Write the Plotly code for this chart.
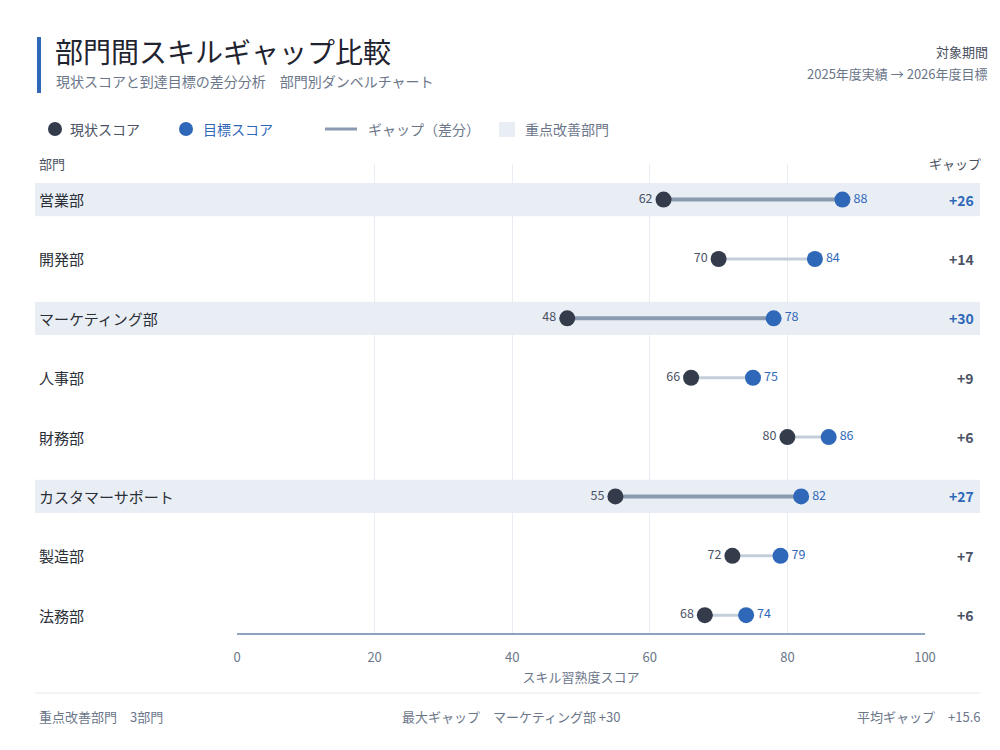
import plotly.graph_objects as go

# データ
departments = ["営業部", "開発部", "マーケティング部", "人事部", "財務部", "カスタマーサポート", "製造部", "法務部"]
current_scores = [62, 70, 48, 66, 80, 55, 72, 68]
target_scores = [88, 84, 78, 75, 86, 82, 79, 74]
focus_depts = ["営業部", "マーケティング部", "カスタマーサポート"]
x_ticks = [0, 20, 40, 60, 80, 100]

FONT = "Noto Sans CJK JP, Noto Sans, sans-serif"
DARK = "#343c4c"
BLUE = "#2f68b8"
GRAY = "#6b7689"
TEXT = "#3a3f4a"
BAND = "#e9eef5"

# 描画領域 (参照画像の px) — ページ余白 8px を差し引く
OFF = 8
L, R, T, B = 237, 925, 164, 633
W, H = 1000 - OFF, 750 - OFF


def px(x):
    return (x - L) / (R - L)


def py(y):
    return (B - y) / (B - T)


gaps = [t - c for c, t in zip(current_scores, target_scores)]
rows = list(range(len(departments)))

fig = go.Figure()

# ギャップの線 (通常 / 重点)
for focus, color, width in [(False, "#c4cedb", 3), (True, "#8a9ab0", 4)]:
    xs, ys = [], []
    for i, d in enumerate(departments):
        if (d in focus_depts) == focus:
            xs += [current_scores[i], target_scores[i], None]
            ys += [i, i, None]
    fig.add_trace(go.Scatter(x=xs, y=ys, mode="lines", line=dict(color=color, width=width),
                             hoverinfo="skip", showlegend=False))

# 現状スコア
fig.add_trace(go.Scatter(
    x=current_scores, y=rows, mode="markers+text",
    marker=dict(size=16, color=DARK),
    text=[str(v) for v in current_scores], textposition="middle left",
    textfont=dict(size=12.5, color="#4a5263", family=FONT),
    showlegend=False, cliponaxis=False,
))

# 目標スコア
fig.add_trace(go.Scatter(
    x=target_scores, y=rows, mode="markers+text",
    marker=dict(size=16, color=BLUE),
    text=[str(v) for v in target_scores], textposition="middle right",
    textfont=dict(size=12.5, color=BLUE, family=FONT),
    showlegend=False, cliponaxis=False,
))

shapes = []
annotations = []

# 重点部門の帯
for i, d in enumerate(departments):
    if d in focus_depts:
        shapes.append(dict(type="rect", xref="paper", yref="y", x0=px(35), x1=px(980),
                           y0=i - 0.28, y1=i + 0.28, fillcolor=BAND, line=dict(width=0), layer="below"))
    annotations.append(dict(xref="paper", yref="y", x=px(37), y=i, text=d, showarrow=False,
                            xanchor="left", font=dict(size=15, color="#2b2f38", family=FONT)))
    gcolor = BLUE if d in focus_depts else "#4a5263"
    annotations.append(dict(xref="paper", yref="y", x=px(976), y=i, text=f"<b>+{gaps[i]}</b>",
                            showarrow=False, xanchor="right", font=dict(size=14, color=gcolor, family=FONT)))

# タイトル部
shapes.append(dict(type="rect", xref="paper", yref="paper", x0=px(37), x1=px(41), y0=py(93), y1=py(37),
                   fillcolor="#2f68b8", line=dict(width=0)))
annotations += [
    dict(xref="paper", yref="paper", x=px(53), y=py(51), text="部門間スキルギャップ比較", showarrow=False,
         xanchor="left", yanchor="middle", font=dict(size=28, color="#1f2430", family=FONT)),
    dict(xref="paper", yref="paper", x=px(54), y=py(81), text="現状スコアと到達目標の差分分析　部門別ダンベルチャート",
         showarrow=False, xanchor="left", yanchor="middle", font=dict(size=14, color=GRAY, family=FONT)),
    dict(xref="paper", yref="paper", x=px(990), y=py(52), text="対象期間", showarrow=False,
         xanchor="right", yanchor="middle", font=dict(size=13, color="#4a5060", family=FONT)),
    dict(xref="paper", yref="paper", x=px(990), y=py(73), text="2025年度実績 → 2026年度目標", showarrow=False,
         xanchor="right", yanchor="middle", font=dict(size=13, color=GRAY, family=FONT)),
]

# 凡例
leg_y = py(129)
shapes += [
    dict(type="circle", xref="paper", yref="paper", x0=px(48), x1=px(62), y0=py(136), y1=py(122),
         fillcolor=DARK, line=dict(width=0)),
    dict(type="circle", xref="paper", yref="paper", x0=px(179), x1=px(193), y0=py(136), y1=py(122),
         fillcolor=BLUE, line=dict(width=0)),
    dict(type="line", xref="paper", yref="paper", x0=px(325), x1=px(357), y0=leg_y, y1=leg_y,
         line=dict(color="#8a9ab0", width=3)),
    dict(type="rect", xref="paper", yref="paper", x0=px(499), x1=px(515), y0=py(137), y1=py(122),
         fillcolor=BAND, line=dict(width=0)),
]
for x, txt, col in [(68, "現状スコア", "#4a5263"), (201, "目標スコア", BLUE),
                    (366, "ギャップ（差分）", GRAY), (523, "重点改善部門", GRAY)]:
    annotations.append(dict(xref="paper", yref="paper", x=px(x), y=leg_y, text=txt, showarrow=False,
                            xanchor="left", yanchor="middle", font=dict(size=14, color=col, family=FONT)))

# 列見出し
annotations += [
    dict(xref="paper", yref="paper", x=px(37), y=py(163), text="部門", showarrow=False,
         xanchor="left", yanchor="middle", font=dict(size=13, color="#4a5060", family=FONT)),
    dict(xref="paper", yref="paper", x=px(983), y=py(163), text="ギャップ", showarrow=False,
         xanchor="right", yanchor="middle", font=dict(size=13, color="#4a5060", family=FONT)),
]

# フッター
focus_count = len(focus_depts)
max_i = gaps.index(max(gaps))
avg_gap = sum(gaps) / len(gaps)
shapes.append(dict(type="line", xref="paper", yref="paper", x0=px(35), x1=px(980), y0=py(693), y1=py(693),
                   line=dict(color="#e3e8ef", width=1)))
annotations += [
    dict(xref="paper", yref="paper", x=px(37), y=py(716), text=f"重点改善部門　{focus_count}部門",
         showarrow=False, xanchor="left", yanchor="middle", font=dict(size=13, color=GRAY, family=FONT)),
    dict(xref="paper", yref="paper", x=px(400), y=py(716),
         text=f"最大ギャップ　{departments[max_i]} +{gaps[max_i]}",
         showarrow=False, xanchor="left", yanchor="middle", font=dict(size=13, color=GRAY, family=FONT)),
    dict(xref="paper", yref="paper", x=px(982), y=py(716), text=f"平均ギャップ　+{avg_gap:.1f}",
         showarrow=False, xanchor="right", yanchor="middle", font=dict(size=13, color=GRAY, family=FONT)),
]

fig.update_layout(
    width=W, height=H,
    margin=dict(l=L - OFF, r=W - (R - OFF), t=T - OFF, b=H - (B - OFF)),
    paper_bgcolor="white", plot_bgcolor="white",
    font=dict(family=FONT),
    shapes=shapes, annotations=annotations,
    showlegend=False,
    xaxis=dict(
        range=[0, 100], tickvals=x_ticks, ticktext=[str(v) for v in x_ticks],
        showgrid=True, gridcolor="#e8edf3", gridwidth=1, zeroline=False,
        showline=True, linecolor="#8fa3c0", linewidth=1.5,
        tickfont=dict(size=13, color=GRAY, family=FONT), ticks="", ticklabelstandoff=12,
        title=dict(text="スキル習熟度スコア", font=dict(size=13, color=GRAY, family=FONT), standoff=8),
    ),
    yaxis=dict(
        range=[len(departments) - 0.7, -0.6], showgrid=False, zeroline=False,
        showticklabels=False, showline=False,
    ),
)

fig.write_html("out.html")
